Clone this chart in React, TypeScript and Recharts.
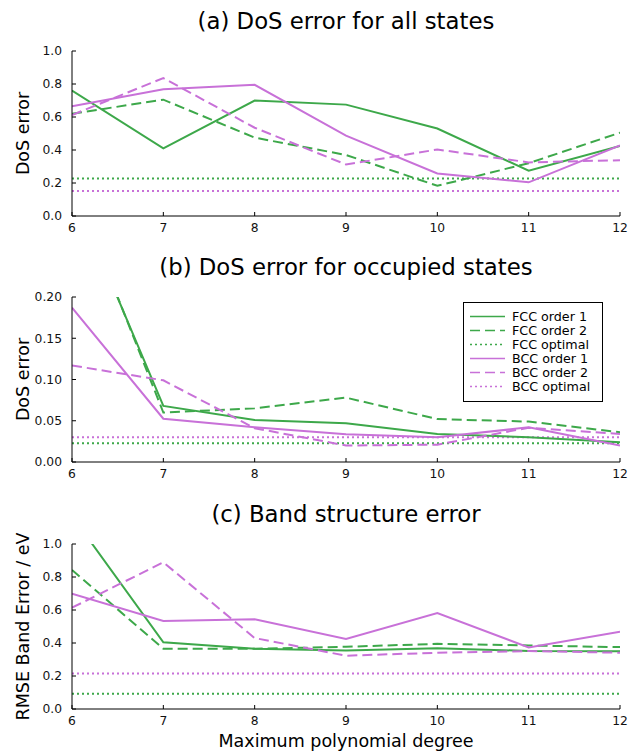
import React from "react";
import { LineChart, Line, XAxis, YAxis, ReferenceLine } from "recharts";

const degrees = [6, 7, 8, 9, 10, 11, 12];
const xTicks = [6, 7, 8, 9, 10, 11, 12];

// (a) DoS error for all states
const fccOrder1A = [0.76, 0.41, 0.70, 0.675, 0.53, 0.275, 0.425];
const fccOrder2A = [0.62, 0.705, 0.475, 0.37, 0.183, 0.32, 0.505];
const bccOrder1A = [0.665, 0.768, 0.795, 0.487, 0.258, 0.204, 0.427];
const bccOrder2A = [0.612, 0.836, 0.535, 0.312, 0.403, 0.325, 0.338];
const fccOptimalA = 0.228;
const bccOptimalA = 0.152;
const yTicksA = [0, 0.2, 0.4, 0.6, 0.8, 1.0];

// (b) DoS error for occupied states
const fccOrder1B = [0.33, 0.068, 0.051, 0.047, 0.034, 0.03, 0.024];
const fccOrder2B = [0.34, 0.06, 0.065, 0.078, 0.052, 0.049, 0.036];
const bccOrder1B = [0.187, 0.0525, 0.042, 0.0335, 0.03, 0.042, 0.02];
const bccOrder2B = [0.117, 0.099, 0.041, 0.02, 0.021, 0.0415, 0.034];
const fccOptimalB = 0.0226;
const bccOptimalB = 0.03;
const yTicksB = [0, 0.05, 0.1, 0.15, 0.2];

// (c) Band structure error
const fccOrder1C = [1.17, 0.404, 0.365, 0.355, 0.368, 0.352, 0.35];
const fccOrder2C = [0.843, 0.365, 0.365, 0.377, 0.395, 0.385, 0.375];
const bccOrder1C = [0.699, 0.534, 0.544, 0.424, 0.582, 0.373, 0.468];
const bccOrder2C = [0.614, 0.889, 0.43, 0.323, 0.341, 0.351, 0.341];
const fccOptimalC = 0.092;
const bccOptimalC = 0.215;
const yTicksC = [0, 0.2, 0.4, 0.6, 0.8, 1.0];

const legendLabels = [
  "FCC order 1",
  "FCC order 2",
  "FCC optimal",
  "BCC order 1",
  "BCC order 2",
  "BCC optimal",
];

const GREEN = "#3da84a";
const MAGENTA = "#c871d8";
const DASH = "10 5";
const DOT = "2 3";
const FONT = "DejaVu Sans, Verdana, sans-serif";

function buildRows(f1: number[], f2: number[], b1: number[], b2: number[]) {
  return degrees.map((x, i) => ({ x, f1: f1[i], f2: f2[i], b1: b1[i], b2: b2[i] }));
}

type PanelProps = {
  top: number;
  height: number;
  margin: { top: number; right: number; bottom: number; left: number };
  rows: any[];
  yDomain: [number, number];
  yTicks: number[];
  digits: number;
  fccOpt: number;
  bccOpt: number;
};

function Panel(p: PanelProps) {
  const tickStyle = { fill: "#111", fontSize: 12.3, fontFamily: FONT };
  return (
    <div style={{ position: "absolute", left: 0, top: p.top }}>
      <LineChart width={629} height={p.height} data={p.rows} margin={p.margin}>
        <XAxis
          dataKey="x"
          type="number"
          domain={[6, 12]}
          ticks={xTicks}
          allowDataOverflow
          height={25}
          tickSize={-4}
          tickMargin={11}
          stroke="#000"
          tick={tickStyle}
          interval={0}
        />
        <YAxis
          type="number"
          domain={p.yDomain}
          ticks={p.yTicks}
          allowDataOverflow
          width={50}
          tickSize={-4}
          tickMargin={14}
          stroke="#000"
          tick={tickStyle}
          interval={0}
          tickFormatter={(v: number) => v.toFixed(p.digits)}
        />
        <ReferenceLine y={p.fccOpt} stroke={GREEN} strokeWidth={2} strokeDasharray={DOT} />
        <ReferenceLine y={p.bccOpt} stroke={MAGENTA} strokeWidth={2} strokeDasharray={DOT} />
        <Line type="linear" dataKey="f1" stroke={GREEN} strokeWidth={2} dot={false} isAnimationActive={false} />
        <Line type="linear" dataKey="f2" stroke={GREEN} strokeWidth={2} strokeDasharray={DASH} dot={false} isAnimationActive={false} />
        <Line type="linear" dataKey="b1" stroke={MAGENTA} strokeWidth={2} dot={false} isAnimationActive={false} />
        <Line type="linear" dataKey="b2" stroke={MAGENTA} strokeWidth={2} strokeDasharray={DASH} dot={false} isAnimationActive={false} />
      </LineChart>
    </div>
  );
}

export default function App() {
  const legendStyles = [
    { c: GREEN, d: undefined },
    { c: GREEN, d: DASH },
    { c: GREEN, d: DOT },
    { c: MAGENTA, d: undefined },
    { c: MAGENTA, d: DASH },
    { c: MAGENTA, d: DOT },
  ];
  return (
    <div style={{ position: "absolute", left: 0, top: 0, width: 629, height: 753, background: "#fff" }}>
      <Panel
        top={0}
        height={245}
        margin={{ top: 51, right: 9, bottom: 4, left: 22 }}
        rows={buildRows(fccOrder1A, fccOrder2A, bccOrder1A, bccOrder2A)}
        yDomain={[0, 1]}
        yTicks={yTicksA}
        digits={1}
        fccOpt={fccOptimalA}
        bccOpt={bccOptimalA}
      />
      <Panel
        top={245}
        height={245}
        margin={{ top: 52, right: 9, bottom: 3, left: 22 }}
        rows={buildRows(fccOrder1B, fccOrder2B, bccOrder1B, bccOrder2B)}
        yDomain={[0, 0.2]}
        yTicks={yTicksB}
        digits={2}
        fccOpt={fccOptimalB}
        bccOpt={bccOptimalB}
      />
      <Panel
        top={490}
        height={263}
        margin={{ top: 54, right: 9, bottom: 19, left: 22 }}
        rows={buildRows(fccOrder1C, fccOrder2C, bccOrder1C, bccOrder2C)}
        yDomain={[0, 1]}
        yTicks={yTicksC}
        digits={1}
        fccOpt={fccOptimalC}
        bccOpt={bccOptimalC}
      />
      <svg
        width={629}
        height={753}
        style={{ position: "absolute", left: 0, top: 0, pointerEvents: "none" }}
        fontFamily={FONT}
      >
        <text x={346} y={29} textAnchor="middle" fontSize={22.8} fill="#000">(a) DoS error for all states</text>
        <text x={346} y={275} textAnchor="middle" fontSize={22.8} fill="#000">(b) DoS error for occupied states</text>
        <text x={346} y={522} textAnchor="middle" fontSize={22.8} fill="#000">(c) Band structure error</text>
        <text transform="translate(29,133.5) rotate(-90)" textAnchor="middle" fontSize={17.5} fill="#000">DoS error</text>
        <text transform="translate(29,379.5) rotate(-90)" textAnchor="middle" fontSize={17.5} fill="#000">DoS error</text>
        <text transform="translate(29,626.5) rotate(-90)" textAnchor="middle" fontSize={17.5} fill="#000">RMSE Band Error / eV</text>
        <text x={346} y={747} textAnchor="middle" fontSize={17.5} fill="#000">Maximum polynomial degree</text>
        <g>
          <rect x={463.5} y={302.5} width={139} height={99} fill="#fff" stroke="#000" strokeWidth={1} />
          {legendLabels.map((lab, i) => {
            const cy = 316.5 + i * 14;
            return (
              <g key={lab}>
                <line x1={470} x2={505} y1={cy} y2={cy} stroke={legendStyles[i].c} strokeWidth={1.6} strokeDasharray={legendStyles[i].d} />
                <text x={512} y={cy + 4.5} fontSize={12.7} fill="#000">{lab}</text>
              </g>
            );
          })}
        </g>
      </svg>
    </div>
  );
}
